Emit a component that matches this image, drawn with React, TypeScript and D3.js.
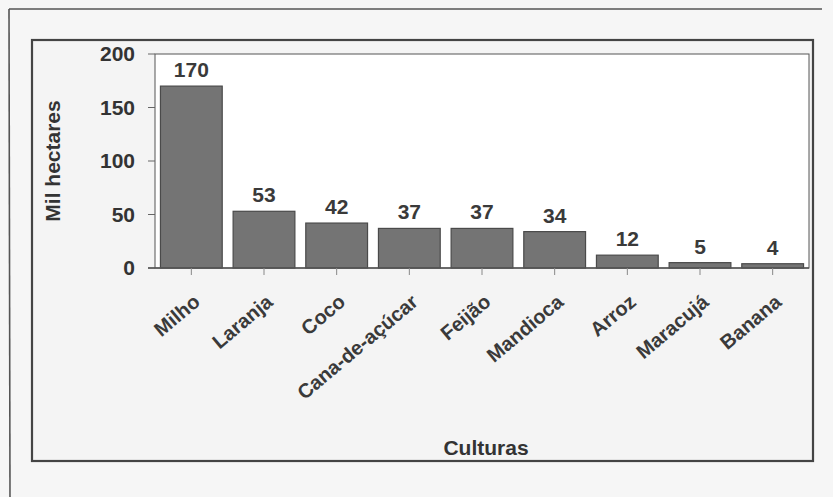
import React from "react";
import * as d3 from "d3";

const categories = ["Milho", "Laranja", "Coco", "Cana-de-açúcar", "Feijão", "Mandioca", "Arroz", "Maracujá", "Banana"];
const values = [170, 53, 42, 37, 37, 34, 12, 5, 4];
const yTicks = [0, 50, 100, 150, 200];
const yLabel = "Mil hectares";
const xLabel = "Culturas";

const W = 833;
const H = 497;
const plot = { left: 155, right: 809, top: 54, bottom: 268 };
const FONT = "'Liberation Sans', Arial, sans-serif";

export default function App() {
  const x = d3
    .scaleBand<string>()
    .domain(categories)
    .range([plot.left, plot.right])
    .paddingInner(0.15)
    .paddingOuter(0.075);
  const y = d3.scaleLinear().domain([0, 200]).range([plot.bottom, plot.top]);

  return (
    <svg
      width={W}
      height={H}
      style={{ position: "absolute", left: 0, top: 0, background: "#f6f6f6" }}
    >
      {/* outer page frame */}
      <line x1={9} y1={9} x2={822} y2={9} stroke="#555" strokeWidth={1.6} />
      <line x1={9} y1={9} x2={10} y2={497} stroke="#555" strokeWidth={1.6} />
      {/* inner chart box */}
      <rect x={32} y={40} width={781} height={421} fill="#f4f4f4" stroke="#444" strokeWidth={2.2} />
      {/* plot area */}
      <rect
        x={plot.left}
        y={plot.top}
        width={plot.right - plot.left}
        height={plot.bottom - plot.top}
        fill="#ffffff"
        stroke="#555"
        strokeWidth={1}
      />
      {/* y ticks */}
      {yTicks.map((t) => (
        <g key={t}>
          <line x1={plot.left - 7} x2={plot.left} y1={y(t)} y2={y(t)} stroke="#666" strokeWidth={1} />
          <text
            x={135}
            y={y(t) + 7}
            textAnchor="end"
            fontFamily={FONT}
            fontWeight="bold"
            fontSize={21}
            fill="#333"
          >
            {t}
          </text>
        </g>
      ))}
      {/* bars */}
      {categories.map((c, i) => {
        const bx = x(c)!;
        const by = y(values[i]);
        return (
          <g key={c}>
            <rect
              x={bx}
              y={by}
              width={x.bandwidth()}
              height={plot.bottom - by}
              fill="#747474"
              stroke="#4a4a4a"
              strokeWidth={1.2}
            />
            <text
              x={bx + x.bandwidth() / 2}
              y={by - 9}
              textAnchor="middle"
              fontFamily={FONT}
              fontWeight="bold"
              fontSize={21}
              fill="#3a3a3a"
            >
              {values[i]}
            </text>
          </g>
        );
      })}
      {/* baseline */}
      <line x1={plot.left - 7} x2={plot.right} y1={plot.bottom} y2={plot.bottom} stroke="#555" strokeWidth={1.4} />
      {/* x ticks and labels */}
      {categories.map((c) => {
        const cx = x(c)! + x.bandwidth() / 2;
        return (
          <g key={"t" + c}>
            <line x1={cx} x2={cx} y1={plot.bottom} y2={plot.bottom + 7} stroke="#888" strokeWidth={1} />
            <text
              transform={`translate(${cx + 10},${plot.bottom + 36}) rotate(-40)`}
              textAnchor="end"
              fontFamily={FONT}
              fontWeight="bold"
              fontSize={20}
              fill="#3a3a3a"
            >
              {c}
            </text>
          </g>
        );
      })}
      <text
        transform={`translate(60,${(plot.top + plot.bottom) / 2}) rotate(-90)`}
        textAnchor="middle"
        fontFamily={FONT}
        fontWeight="bold"
        fontSize={21}
        fill="#333"
      >
        {yLabel}
      </text>
      <text
        x={486}
        y={455}
        textAnchor="middle"
        fontFamily={FONT}
        fontWeight="bold"
        fontSize={21}
        fill="#333"
      >
        {xLabel}
      </text>
    </svg>
  );
}
